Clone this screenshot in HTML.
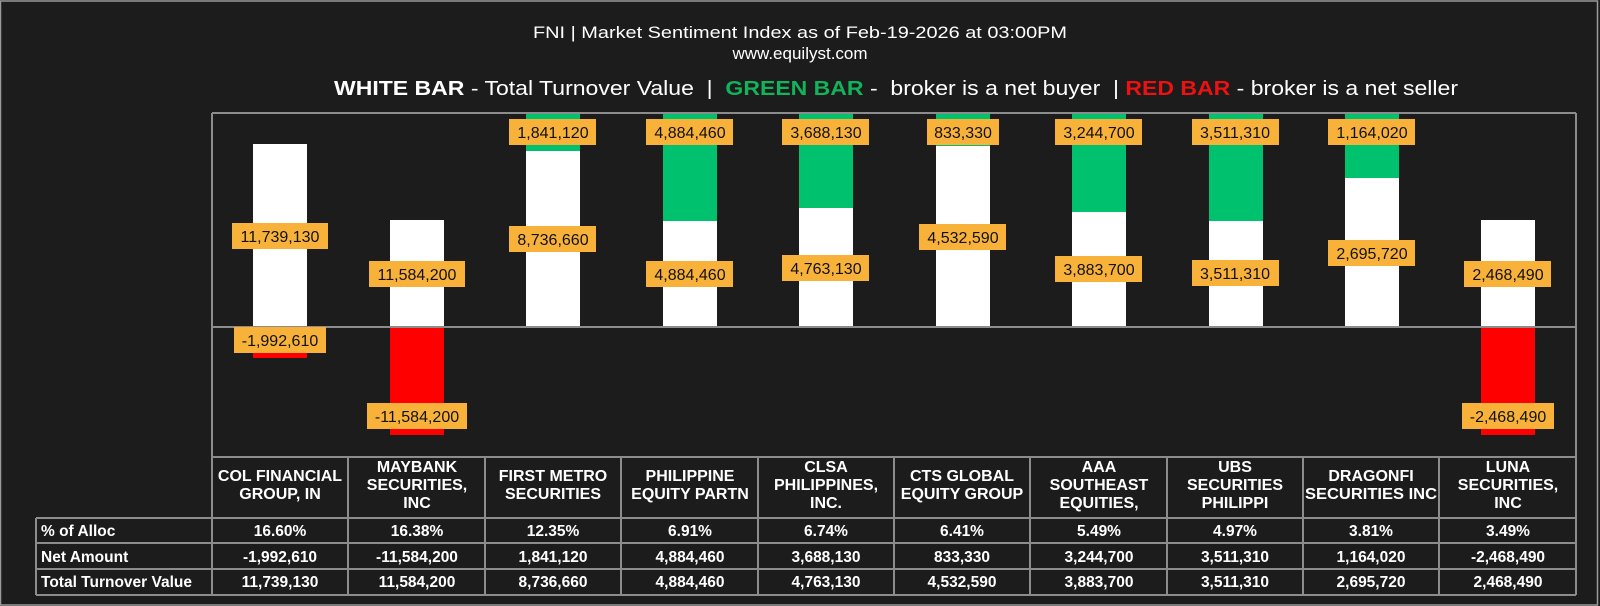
<!DOCTYPE html>
<html><head><meta charset="utf-8"><style>
html,body{margin:0;padding:0;background:#1c1c1c;}
svg{display:block;}
</style></head><body>
<svg width="1600" height="606" viewBox="0 0 1600 606" xmlns="http://www.w3.org/2000/svg" font-family="Liberation Sans, Arial, sans-serif">
<rect x="0" y="0" width="1600" height="606" fill="#1c1c1c"/>
<rect x="0.5" y="1" width="1597" height="604" fill="none" stroke="#9a9a9a" stroke-width="1.5"/>
<text x="800" y="38" fill="#fff" font-size="17" text-anchor="middle" textLength="534" lengthAdjust="spacingAndGlyphs">FNI | Market Sentiment Index as of Feb-19-2026 at 03:00PM</text>
<text x="800" y="59" fill="#fff" font-size="17" text-anchor="middle">www.equilyst.com</text>
<text x="334" y="95" font-size="20" textLength="1124" lengthAdjust="spacingAndGlyphs" fill="#fff" xml:space="preserve"><tspan font-weight="bold">WHITE BAR</tspan> - Total Turnover Value  |  <tspan font-weight="bold" fill="#12b35a">GREEN BAR</tspan> -  broker is a net buyer  | <tspan font-weight="bold" fill="#ee1111">RED BAR</tspan> - broker is a net seller</text>

<g>
<rect x="253" y="144" width="54" height="183" fill="#fff"/>
<rect x="253" y="327" width="54" height="31" fill="#ff0000"/>
<rect x="390" y="220" width="54" height="107" fill="#fff"/>
<rect x="390" y="327" width="54" height="108" fill="#ff0000"/>
<rect x="526" y="113" width="54" height="38" fill="#00c26e"/>
<rect x="526" y="151" width="54" height="176" fill="#fff"/>
<rect x="663" y="113" width="54" height="108" fill="#00c26e"/>
<rect x="663" y="221" width="54" height="106" fill="#fff"/>
<rect x="799" y="113" width="54" height="95" fill="#00c26e"/>
<rect x="799" y="208" width="54" height="119" fill="#fff"/>
<rect x="936" y="113" width="54" height="33" fill="#00c26e"/>
<rect x="936" y="146" width="54" height="181" fill="#fff"/>
<rect x="1072" y="113" width="54" height="99" fill="#00c26e"/>
<rect x="1072" y="212" width="54" height="115" fill="#fff"/>
<rect x="1209" y="113" width="54" height="108" fill="#00c26e"/>
<rect x="1209" y="221" width="54" height="106" fill="#fff"/>
<rect x="1345" y="113" width="54" height="65" fill="#00c26e"/>
<rect x="1345" y="178" width="54" height="149" fill="#fff"/>
<rect x="1481" y="220" width="54" height="107" fill="#fff"/>
<rect x="1481" y="327" width="54" height="108" fill="#ff0000"/>
</g>

<g stroke="#8c8c8c" stroke-width="2" fill="none">
<line x1="212" y1="113" x2="1576" y2="113"/>
<line x1="212" y1="113" x2="212" y2="457"/>
<line x1="1576" y1="113" x2="1576" y2="595"/>
<line x1="212" y1="327" x2="1576" y2="327"/>
</g>

<g font-size="16" text-anchor="middle" fill="#111">
<g fill="#f8b23a">
<rect x="232" y="223" width="96" height="26"/>
<rect x="234" y="327" width="92" height="26"/>
<rect x="369" y="261" width="96" height="26"/>
<rect x="367" y="403" width="100" height="26"/>
<rect x="509" y="119" width="87" height="26"/>
<rect x="509" y="226" width="87" height="26"/>
<rect x="646" y="119" width="87" height="26"/>
<rect x="646" y="261" width="87" height="26"/>
<rect x="782" y="119" width="87" height="26"/>
<rect x="782" y="255" width="87" height="26"/>
<rect x="927" y="119" width="72" height="26"/>
<rect x="919" y="224" width="87" height="26"/>
<rect x="1055" y="119" width="87" height="26"/>
<rect x="1055" y="256" width="87" height="26"/>
<rect x="1192" y="119" width="87" height="26"/>
<rect x="1192" y="260" width="87" height="26"/>
<rect x="1328" y="119" width="87" height="26"/>
<rect x="1328" y="240" width="87" height="26"/>
<rect x="1464" y="261" width="87" height="26"/>
<rect x="1462" y="403" width="92" height="26"/>
</g>
<text x="280" y="242">11,739,130</text>
<text x="280" y="346">-1,992,610</text>
<text x="417" y="280">11,584,200</text>
<text x="417" y="422">-11,584,200</text>
<text x="553" y="138">1,841,120</text>
<text x="553" y="245">8,736,660</text>
<text x="690" y="138">4,884,460</text>
<text x="690" y="280">4,884,460</text>
<text x="826" y="138">3,688,130</text>
<text x="826" y="274">4,763,130</text>
<text x="963" y="138">833,330</text>
<text x="963" y="243">4,532,590</text>
<text x="1099" y="138">3,244,700</text>
<text x="1099" y="275">3,883,700</text>
<text x="1235" y="138">3,511,310</text>
<text x="1235" y="279">3,511,310</text>
<text x="1372" y="138">1,164,020</text>
<text x="1372" y="259">2,695,720</text>
<text x="1508" y="280">2,468,490</text>
<text x="1508" y="422">-2,468,490</text>
</g>

<g stroke="#8c8c8c" stroke-width="2" fill="none">
<line x1="212" y1="457" x2="1576" y2="457"/>
<line x1="36" y1="518" x2="1576" y2="518"/>
<line x1="36" y1="543" x2="1576" y2="543"/>
<line x1="36" y1="569" x2="1576" y2="569"/>
<line x1="36" y1="595" x2="1576" y2="595"/>
<line x1="36" y1="518" x2="36" y2="595"/>
<line x1="212" y1="457" x2="212" y2="595"/>
<line x1="348" y1="457" x2="348" y2="595"/>
<line x1="485" y1="457" x2="485" y2="595"/>
<line x1="621" y1="457" x2="621" y2="595"/>
<line x1="758" y1="457" x2="758" y2="595"/>
<line x1="894" y1="457" x2="894" y2="595"/>
<line x1="1030" y1="457" x2="1030" y2="595"/>
<line x1="1167" y1="457" x2="1167" y2="595"/>
<line x1="1303" y1="457" x2="1303" y2="595"/>
<line x1="1439" y1="457" x2="1439" y2="595"/>
</g>
<g fill="#fff" font-size="16" font-weight="bold" text-anchor="middle">
<text x="280" y="481">COL FINANCIAL</text><text x="280" y="499">GROUP, IN</text>
<text x="417" y="472">MAYBANK</text><text x="417" y="490">SECURITIES,</text><text x="417" y="508">INC</text>
<text x="553" y="481">FIRST METRO</text><text x="553" y="499">SECURITIES</text>
<text x="690" y="481">PHILIPPINE</text><text x="690" y="499">EQUITY PARTN</text>
<text x="826" y="472">CLSA</text><text x="826" y="490">PHILIPPINES,</text><text x="826" y="508">INC.</text>
<text x="962" y="481">CTS GLOBAL</text><text x="962" y="499">EQUITY GROUP</text>
<text x="1099" y="472">AAA</text><text x="1099" y="490">SOUTHEAST</text><text x="1099" y="508">EQUITIES,</text>
<text x="1235" y="472">UBS</text><text x="1235" y="490">SECURITIES</text><text x="1235" y="508">PHILIPPI</text>
<text x="1371" y="481">DRAGONFI</text><text x="1371" y="499" textLength="132" lengthAdjust="spacingAndGlyphs">SECURITIES INC</text>
<text x="1508" y="472">LUNA</text><text x="1508" y="490">SECURITIES,</text><text x="1508" y="508">INC</text>
</g>
<g fill="#fff" font-size="15.5" font-weight="bold" text-anchor="middle">
<g text-anchor="start">
<text x="41" y="536">% of Alloc</text>
<text x="41" y="562">Net Amount</text>
<text x="41" y="587">Total Turnover Value</text>
</g>
<text x="280" y="536">16.60%</text><text x="417" y="536">16.38%</text><text x="553" y="536">12.35%</text><text x="690" y="536">6.91%</text><text x="826" y="536">6.74%</text><text x="962" y="536">6.41%</text><text x="1099" y="536">5.49%</text><text x="1235" y="536">4.97%</text><text x="1371" y="536">3.81%</text><text x="1508" y="536">3.49%</text>
<text x="280" y="562">-1,992,610</text><text x="417" y="562">-11,584,200</text><text x="553" y="562">1,841,120</text><text x="690" y="562">4,884,460</text><text x="826" y="562">3,688,130</text><text x="962" y="562">833,330</text><text x="1099" y="562">3,244,700</text><text x="1235" y="562">3,511,310</text><text x="1371" y="562">1,164,020</text><text x="1508" y="562">-2,468,490</text>
<text x="280" y="587">11,739,130</text><text x="417" y="587">11,584,200</text><text x="553" y="587">8,736,660</text><text x="690" y="587">4,884,460</text><text x="826" y="587">4,763,130</text><text x="962" y="587">4,532,590</text><text x="1099" y="587">3,883,700</text><text x="1235" y="587">3,511,310</text><text x="1371" y="587">2,695,720</text><text x="1508" y="587">2,468,490</text>
</g>
</svg>
</body></html>
